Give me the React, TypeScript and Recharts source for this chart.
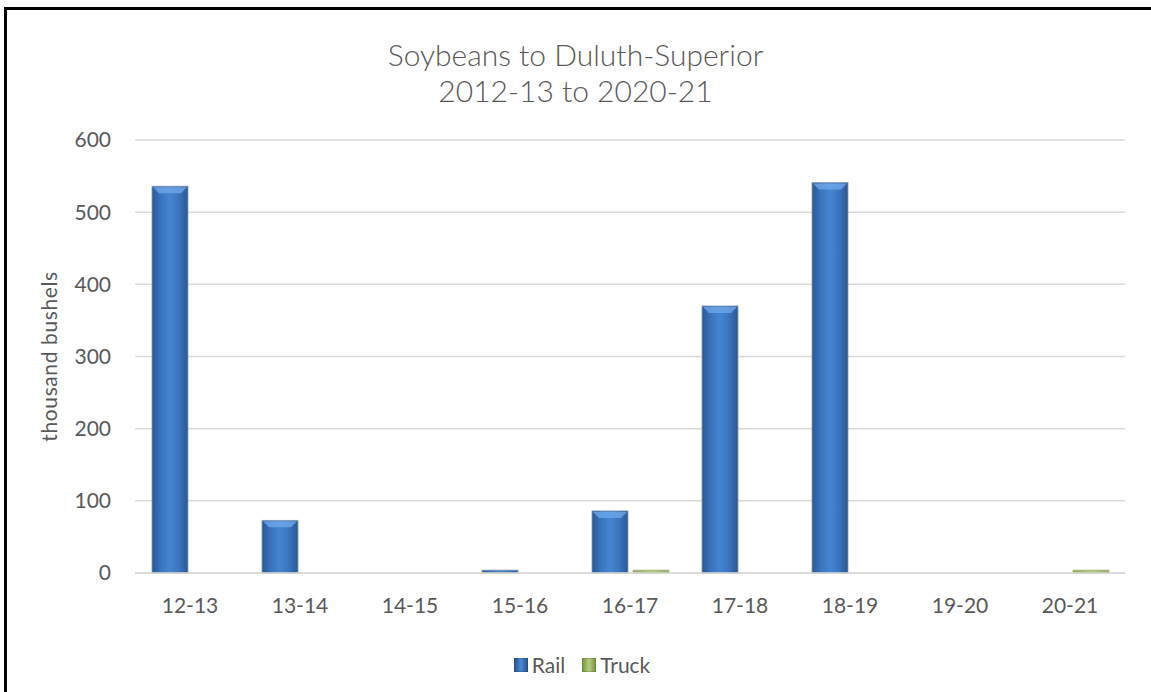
import React from 'react';
import { BarChart, Bar, XAxis, YAxis, CartesianGrid, Legend } from 'recharts';

const categories = ['12-13', '13-14', '14-15', '15-16', '16-17', '17-18', '18-19', '19-20', '20-21'];
const railValues = [536, 73, 0, 4, 86, 370, 541, 0, 0];
const truckValues = [0, 0, 0, 0, 4, 0, 0, 0, 4];
const yTicks = [0, 100, 200, 300, 400, 500, 600];

const data = categories.map((c, i) => ({ name: c, Rail: railValues[i], Truck: truckValues[i] }));

const FONT = 'Lato, "Open Sans", sans-serif';
const TEXT = '#595959';

const SERIES_STYLE: Record<string, { grad: string; icon: string }> = {
  Rail: { grad: 'railGrad', icon: 'linear-gradient(90deg,#2B5893,#4A8AD6 50%,#2B5893)' },
  Truck: { grad: 'truckGrad', icon: 'linear-gradient(90deg,#7E9A47,#B4CE7E 50%,#7E9A47)' },
};

const BevelBar = (props: any) => {
  const { x, y, width, height, gradId, topColor, edge } = props;
  if (!height || height <= 0) return null;
  const b = Math.min(7, height / 2, width / 4);
  return (
    <g>
      <rect x={x} y={y} width={width} height={height} fill={`url(#${gradId})`} stroke={edge} strokeWidth={0.8} />
      {height > 6 && (
        <polygon
          points={`${x + 1},${y + 1} ${x + width - 1},${y + 1} ${x + width - b},${y + b} ${x + b},${y + b}`}
          fill={topColor}
          opacity={0.8}
        />
      )}
    </g>
  );
};

const LegendContent = (props: any) => {
  const { payload } = props;
  return (
    <div style={{ display: 'flex', justifyContent: 'center', alignItems: 'center', fontFamily: FONT, fontSize: 21, color: TEXT }}>
      {(payload || []).map((entry: any, i: number) => (
        <div key={entry.value} style={{ display: 'flex', alignItems: 'center', marginLeft: i === 0 ? 0 : 17 }}>
          <span
            style={{
              display: 'inline-block',
              width: 14,
              height: 14,
              marginRight: 4,
              background: SERIES_STYLE[entry.value]?.icon || entry.color,
              border: '1px solid rgba(0,0,0,0.15)',
              boxSizing: 'border-box',
            }}
          />
          <span>{entry.value}</span>
        </div>
      ))}
    </div>
  );
};

export default function App() {
  return (
    <div style={{ position: 'fixed', left: 0, top: 0, width: 1151, height: 692, background: '#fff', overflow: 'hidden' }}>
      <div
        style={{
          position: 'absolute',
          left: 4,
          top: 7,
          right: -10,
          bottom: -10,
          borderLeft: '3px solid #000',
          borderTop: '3px solid #000',
        }}
      />
      <div
        style={{
          position: 'absolute',
          left: 0,
          width: 1151,
          top: 36,
          textAlign: 'center',
          fontFamily: FONT,
          fontSize: 30,
          fontWeight: 300,
          lineHeight: '36px',
          color: TEXT,
        }}
      >
        <div>Soybeans to Duluth-Superior</div>
        <div>2012-13 to 2020-21</div>
      </div>
      <div style={{ position: 'absolute', left: 0, top: 0 }}>
        <BarChart
          width={1151}
          height={692}
          data={data}
          margin={{ top: 140, right: 26, left: 0, bottom: 0 }}
          barSize={36}
          barGap={5}
        >
          <defs>
            <linearGradient id="railGrad" x1="0" y1="0" x2="1" y2="0">
              <stop offset="0%" stopColor="#2B5893" />
              <stop offset="25%" stopColor="#3A74BE" />
              <stop offset="50%" stopColor="#4585D2" />
              <stop offset="75%" stopColor="#3A74BE" />
              <stop offset="100%" stopColor="#2B5893" />
            </linearGradient>
            <linearGradient id="truckGrad" x1="0" y1="0" x2="1" y2="0">
              <stop offset="0%" stopColor="#8AA653" />
              <stop offset="50%" stopColor="#B4CE7E" />
              <stop offset="100%" stopColor="#8AA653" />
            </linearGradient>
          </defs>
          <CartesianGrid vertical={false} stroke="#D9D9D9" strokeWidth={1.5} />
          <XAxis
            dataKey="name"
            height={119}
            axisLine={{ stroke: '#D9D9D9', strokeWidth: 1.5 }}
            tickLine={false}
            tickMargin={19}
            tick={{ fill: TEXT, fontSize: 21, fontFamily: FONT }}
          />
          <YAxis
            width={135}
            domain={[0, 600]}
            ticks={yTicks}
            axisLine={false}
            tickLine={false}
            tickMargin={18}
            tick={{ fill: TEXT, fontSize: 21, fontFamily: FONT }}
            label={{
              value: 'thousand bushels',
              angle: -90,
              position: 'insideLeft',
              offset: 50,
              textAnchor: 'middle',
              style: { fill: TEXT, fontSize: 21, fontFamily: FONT, textAnchor: 'middle', letterSpacing: 0.6 },
            }}
          />
          <Legend
            verticalAlign="middle"
            align="center"
            content={<LegendContent />}
            wrapperStyle={{ top: 652, left: 0, width: 1164 }}
          />
          <Bar
            dataKey="Rail"
            fill="#3A74BE"
            isAnimationActive={false}
            shape={(p: any) => <BevelBar {...p} gradId="railGrad" topColor="#6FA6E8" edge="#8A9BB0" />}
          />
          <Bar
            dataKey="Truck"
            fill="#9BBB59"
            isAnimationActive={false}
            shape={(p: any) => <BevelBar {...p} gradId="truckGrad" topColor="#CFE3A3" edge="#A5B58A" />}
          />
        </BarChart>
      </div>
    </div>
  );
}
